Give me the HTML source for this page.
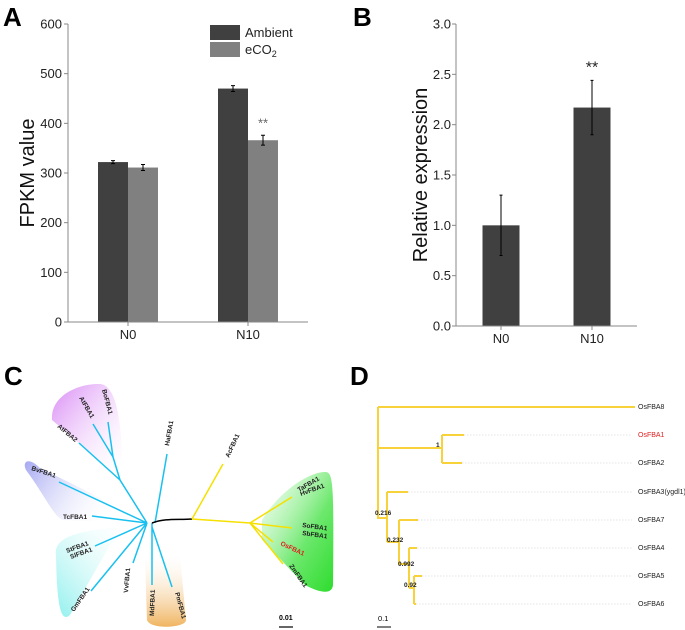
<!DOCTYPE html>
<html><head><meta charset="utf-8"><style>
body{margin:0;background:#fff;}
svg{display:block;font-family:"Liberation Sans",Arial,sans-serif;}
</style></head><body>
<svg id="fig" width="685" height="630" viewBox="0 0 685 630">
<defs>
<linearGradient id="gPurple" x1="0" y1="0" x2="1" y2="1"><stop offset="0" stop-color="#d98af5"/><stop offset="1" stop-color="#fff" stop-opacity="0.2"/></linearGradient>
<linearGradient id="gBlue" x1="0" y1="0" x2="1" y2="0.4"><stop offset="0" stop-color="#a6a8f2"/><stop offset="1" stop-color="#fff" stop-opacity="0.2"/></linearGradient>
<linearGradient id="gCyan" x1="0" y1="1" x2="1" y2="0"><stop offset="0" stop-color="#8ff0ee"/><stop offset="1" stop-color="#fff" stop-opacity="0.2"/></linearGradient>
<linearGradient id="gOrange" x1="0" y1="1" x2="0" y2="0"><stop offset="0" stop-color="#f0b460"/><stop offset="1" stop-color="#fff" stop-opacity="0.2"/></linearGradient>
<linearGradient id="gGreen" x1="0" y1="0" x2="1" y2="1"><stop offset="0" stop-color="#d8fad8" stop-opacity="0.3"/><stop offset="0.6" stop-color="#6ce86c"/><stop offset="1" stop-color="#2edc2e"/></linearGradient>
</defs>
<g id="panelA"></g>
<g id="panelB"></g>

<!-- Panel C -->
<g>
<text x="4" y="385" font-size="26" font-weight="bold">C</text>
<path d="M52,420 C50,395 80,383 100,384 C118,385 122,430 122,468 L110,470 Z" fill="url(#gPurple)"/>
<path d="M26,470 C22,462 28,456 40,468 L125,510 L122,522 L65,520 C55,520 48,500 26,470 Z" fill="url(#gBlue)"/>
<path d="M56,555 C54,540 70,530 127,527 L110,545 L70,615 C62,622 57,612 56,555 Z" fill="url(#gCyan)"/>
<path d="M145,560 L180,555 L186,620 C186,628 150,630 147,620 Z" fill="url(#gOrange)"/>
<path d="M262,520 C280,490 310,472 325,472 C333,472 334,480 333,585 C332,595 320,593 305,585 L262,540 Z" fill="url(#gGreen)"/>
<g stroke="#18c0f0" stroke-width="1.5" fill="none">
<path d="M147,523 L120,480 L113,457 L108,422 M113,457 L93,424 M120,480 L79,443 M147,523 L59,482 M147,523 L92,516 M147,523 L95,546 M147,523 L91,591 M147,523 L133,563 M152,523 L152,585 M152,527 L172,587 M155,523 L167,454"/>
</g>
<path d="M152,523 C165,518 178,520 192,519" stroke="#000" stroke-width="1.5" fill="none"/>
<g stroke="#f5e000" stroke-width="1.5" fill="none">
<path d="M192,519 L223,464 M192,519 L250,523 L292,497 M250,523 L292,528 M250,523 L273,542 M250,523 L283,564"/>
</g>
<g font-size="6.5" font-weight="bold" fill="#222">
<text transform="translate(57,427) rotate(40)">AtFBA2</text>
<text transform="translate(79,398) rotate(60)">AtFBA1</text>
<text transform="translate(102,390) rotate(75)">BoFBA1</text>
<text transform="translate(31,470) rotate(18)">BvFBA1</text>
<text x="63" y="519">TcFBA1</text>
<text transform="translate(67,553) rotate(-20)">StFBA1</text>
<text transform="translate(71,559) rotate(-20)">SlFBA1</text>
<text transform="translate(74,612) rotate(-55)">GmFBA1</text>
<text transform="translate(128,593) rotate(-85)">VvFBA1</text>
<text transform="translate(154,616) rotate(-88)">MdFBA1</text>
<text transform="translate(175,593) rotate(75)">PmFBA1</text>
<text transform="translate(169,446) rotate(-80)">HaFBA1</text>
<text transform="translate(229,458) rotate(-65)">AcFBA1</text>
<text transform="translate(299,492) rotate(-30)">TaFBA1</text>
<text transform="translate(301,496) rotate(-20)">HvFBA1</text>
<text transform="translate(302,527) rotate(8)">SoFBA1</text>
<text transform="translate(302,535) rotate(8)">SbFBA1</text>
<text transform="translate(280,545) rotate(25)" fill="#e02020">OsFBA1</text>
<text transform="translate(289,566) rotate(55)">ZmFBA1</text>
</g>
<text x="279" y="620" font-size="7" font-weight="bold">0.01</text>
<line x1="279" y1="627" x2="293" y2="627" stroke="#000" stroke-width="1.2"/>
</g>

<!-- Panel D -->
<g>
<text x="350" y="385" font-size="26" font-weight="bold">D</text>
<g stroke="#ccc" stroke-width="0.6" stroke-dasharray="1.5,1.5">
<path d="M464,435 H632 M462,463 H632 M408,492 H632 M418,520 H632 M417,548 H632 M422,576 H632 M416,604 H632"/>
</g>
<g stroke="#f7d23a" stroke-width="2" fill="none">
<path d="M378,407 H635 M378,407 V518 H387 M378,448 H442 M442,435 V463 M442,435 H464 M442,463 H462 M387,492 V542 M387,492 H408 M387,542 H399 M399,520 V564 M399,520 H418 M399,564 H409 M409,548 V588 M409,548 H417 M409,588 H414 M414,576 V604 M414,576 H422 M414,604 H416"/>
</g>
<g font-size="7" fill="#222">
<text x="638" y="409">OsFBA8</text>
<text x="638" y="437" fill="#e02020">OsFBA1</text>
<text x="638" y="465">OsFBA2</text>
<text x="638" y="494">OsFBA3(ygdl1)</text>
<text x="638" y="522">OsFBA7</text>
<text x="638" y="550">OsFBA4</text>
<text x="638" y="578">OsFBA5</text>
<text x="638" y="606">OsFBA6</text>
</g>
<g font-size="6.5" font-weight="bold" fill="#222">
<text x="436" y="447">1</text>
<text x="375" y="515">0.216</text>
<text x="387" y="542">0.232</text>
<text x="398" y="566">0.992</text>
<text x="404" y="587">0.92</text>
</g>
<text x="378" y="621" font-size="7.5">0.1</text>
<line x1="377" y1="627" x2="391" y2="627" stroke="#000" stroke-width="1"/>
</g>
</svg>
<script>
const ns="http://www.w3.org/2000/svg";
// Panel A data
const aCategories=["N0","N10"];
const aAmbient=[322,470];
const aAmbientErr=[3,6];
const aECO2=[311,366];
const aECO2Err=[6,10];
const aTicks=[0,100,200,300,400,500,600];
// Panel B data
const bCategories=["N0","N10"];
const bValues=[1.0,2.17];
const bErr=[0.30,0.27];
const bTicks=["0.0","0.5","1.0","1.5","2.0","2.5","3.0"];

function mk(parent,tag,attrs){const e=document.createElementNS(ns,tag);for(const k in attrs)e.setAttribute(k,attrs[k]);parent.appendChild(e);return e;}

// Panel A
(function(){
const g=document.getElementById('panelA');
const x0=68,x1=308,y0=322,yTop=24,vmax=600;
const y=v=>y0-(v/vmax)*(y0-yTop);
const groupCenter=i=>128+i*120;
const bw=30;
let t=mk(g,'text',{x:3,y:26,'font-size':26,'font-weight':'bold'});t.textContent='A';


aTicks.forEach(v=>{
 mk(g,'line',{x1:x0-4,x2:x0,y1:y(v),y2:y(v),stroke:'#888'});
 const tt=mk(g,'text',{x:x0-6,y:y(v)+4.5,'text-anchor':'end','font-size':13,fill:'#222'});tt.textContent=v;
 
 
});
aCategories.forEach((c,i)=>{
 const cx=groupCenter(i);
 [[aAmbient,aAmbientErr,'#404040',cx-bw],[aECO2,aECO2Err,'#808080',cx]].forEach(([vals,errs,col,bx],s)=>{
  const r=mk(g,'rect',{x:bx,y:y(vals[i]),width:bw,height:y0-y(vals[i]),fill:col});
  
  
  const ex=bx+bw/2,et=y(vals[i]+errs[i]),eb=y(vals[i]-errs[i]);
  mk(g,'path',{d:`M${ex},${et}V${eb}M${ex-2},${et}h4M${ex-2},${eb}h4`,stroke:'#000','stroke-width':1,fill:'none'});
 });
 const lt=mk(g,'text',{x:cx,y:y0+17,'text-anchor':'middle','font-size':13,fill:'#222'});lt.textContent=c;
 
 
 mk(g,'line',{x1:cx,x2:cx,y1:y0,y2:y0+4,stroke:'#888'});
});
mk(g,'path',{d:`M${x0},${yTop}V${y0}H${x1}`,stroke:'#888','stroke-width':1,fill:'none'});
const st=mk(g,'text',{x:groupCenter(1)+bw/2,y:y(aECO2[1]+aECO2Err[1])-8,'text-anchor':'middle','font-size':13,fill:'#666'});st.textContent='**';


const yt=mk(g,'text',{transform:'translate(34,173) rotate(-90)','text-anchor':'middle','font-size':20,fill:'#111'});yt.textContent='FPKM value';


mk(g,'rect',{x:210,y:25,width:30,height:15,fill:'#404040'});
mk(g,'rect',{x:210,y:42,width:30,height:15,fill:'#808080'});
let l1=mk(g,'text',{x:245,y:37,'font-size':13,fill:'#222'});l1.textContent='Ambient';


let l2=mk(g,'text',{x:245,y:54,'font-size':13,fill:'#222'});l2.innerHTML='eCO<tspan font-size="9" dy="3">2</tspan>';


})();

// Panel B
(function(){
const g=document.getElementById('panelB');
const x0=456,x1=637,y0=326,yTop=24,vmax=3;
const y=v=>y0-(v/vmax)*(y0-yTop);
const cxs=i=>501+i*91;
const bw=37;
let t=mk(g,'text',{x:353,y:26,'font-size':26,'font-weight':'bold'});t.textContent='B';


bTicks.forEach(s=>{const v=parseFloat(s);
 mk(g,'line',{x1:x0-4,x2:x0,y1:y(v),y2:y(v),stroke:'#888'});
 const tt=mk(g,'text',{x:x0-5,y:y(v)+4.5,'text-anchor':'end','font-size':13,fill:'#222'});tt.textContent=s;
 
 
});
bCategories.forEach((c,i)=>{
 const cx=cxs(i);
 const r=mk(g,'rect',{x:cx-bw/2,y:y(bValues[i]),width:bw,height:y0-y(bValues[i]),fill:'#404040'});
 
 
 const et=y(bValues[i]+bErr[i]),eb=y(bValues[i]-bErr[i]);
 mk(g,'path',{d:`M${cx},${et}V${eb}M${cx-1.5},${et}h3M${cx-1.5},${eb}h3`,stroke:'#000','stroke-width':1,fill:'none'});
 const lt=mk(g,'text',{x:cx,y:y0+17,'text-anchor':'middle','font-size':13,fill:'#222'});lt.textContent=c;
 
 
 mk(g,'line',{x1:cx,x2:cx,y1:y0,y2:y0+4,stroke:'#888'});
});
mk(g,'path',{d:`M${x0},${yTop}V${y0}H${x1}`,stroke:'#888','stroke-width':1,fill:'none'});
const st=mk(g,'text',{x:cxs(1),y:y(bValues[1]+bErr[1])-8,'text-anchor':'middle','font-size':16,fill:'#222'});st.textContent='**';


const yt=mk(g,'text',{transform:'translate(427,175) rotate(-90)','text-anchor':'middle','font-size':20,fill:'#111'});yt.textContent='Relative expression';


})();
</script>
</body></html>
